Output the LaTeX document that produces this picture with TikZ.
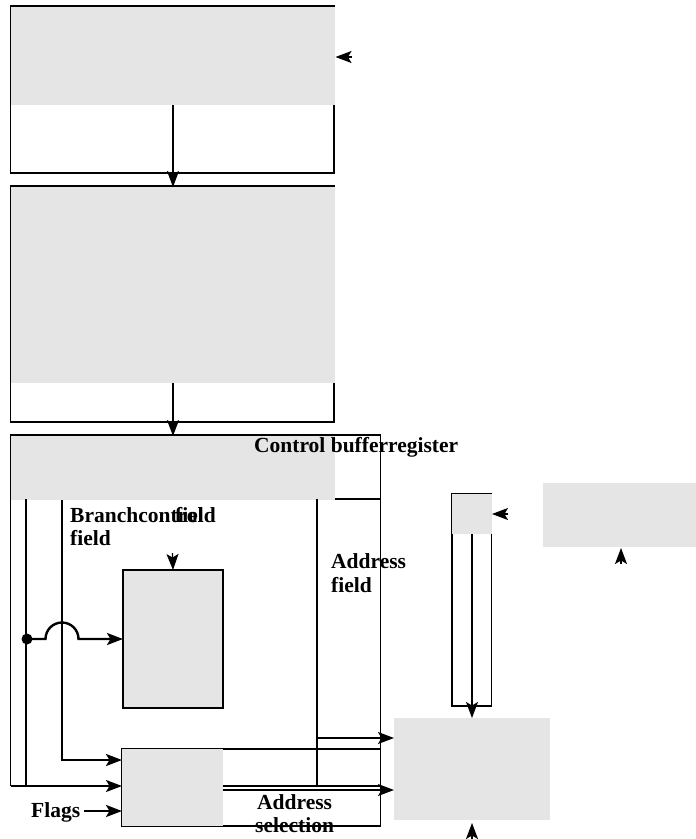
\documentclass[tikz,border=0pt]{standalone}
\usepackage{fontspec}
\setmainfont{Liberation Serif}
\usetikzlibrary{arrows.meta}
\definecolor{boxgray}{HTML}{E5E5E5}
\begin{document}
\begin{tikzpicture}[x=1pt,y=-1pt,
  tip/.style={-{Stealth[length=16pt,width=12pt,inset=3.5pt]}},
  thinline/.style={line width=1.2pt},
  thickline/.style={line width=2.4pt},
  fillbox/.style={fill=boxgray, draw=none, inner sep=0pt, outer sep=0pt, anchor=north west},
  lbl/.style={font=\bfseries\fontsize{21.5}{23}\selectfont, inner sep=0pt, anchor=base west}]
\useasboundingbox (0,0) rectangle (696,839);

% ---- box 1
\draw[thinline] (10.5,6) rectangle (334,173);
\node[fillbox, minimum width=324pt, minimum height=98pt] (b1) at (11,7) {};
% ---- box 2
\draw[thinline] (10.5,186) rectangle (334,422);
\node[fillbox, minimum width=324pt, minimum height=196pt] (b2) at (11,187) {};
% ---- control buffer register
\draw[thinline] (10.5,435) rectangle (380.5,499);
\node[fillbox, minimum width=324pt, minimum height=64pt] (cbr) at (11,436) {};

\draw[thinline, tip] (b1.south) -- (b2.north);
\draw[thinline, tip] (b2.south) -- (cbr.north);

% ---- sequencing box
\node[fillbox, draw, thinline, minimum width=100pt, minimum height=138pt] (seq) at (123,570) {};

% ---- address selection box
\draw[thinline] (122,749) rectangle (380.5,826);
\node[fillbox, minimum width=101pt, minimum height=77pt] (asel) at (122,749) {};

% ---- right column
\draw[thinline] (452,494) rectangle (491.5,706);
\node[fillbox, minimum width=40pt, minimum height=40pt] (inc) at (452,494) {};
\node[fillbox, minimum width=153pt, minimum height=64pt] (r1) at (543,483) {};
\node[fillbox, minimum width=156pt, minimum height=102pt] (cm) at (394,718) {};
\draw[thinline, tip] (inc.south) -- (cm.north);

% ---- address field column
\draw[thinline] (380.5,499) -- (380.5,826);
\draw[thinline] (317,499) -- (317,786);
\draw[thinline] (223,786) -- (380.5,786);
\coordinate (af) at (317,738);
\draw[thinline, tip] (af) -- (cm.west |- af);
\coordinate (aout) at (223,790);
\draw[thinline, tip] (aout) -- (cm.west |- aout);

% ---- left lines
\draw[thinline] (10.5,499) -- (10.5,786);
\draw[thinline] (26,499) -- (26,786);
\coordinate (lj) at (10.5,786);
\draw[line width=1.6pt, tip] (lj) -- (asel.west |- lj);

% ---- branch control line
\coordinate (bc) at (62,500);
\coordinate (bcc) at (62,760);
\draw[thickline, tip] (bc) -- (bcc) -- (asel.west |- bcc);

% ---- dot with jump
\coordinate (dot) at (27,639);
\fill (dot) circle (5.5pt);
\draw[thickline, tip] (dot) -- (45.5,639) arc[start angle=180, end angle=360, radius=16.5] -- (seq.west |- dot);

% ---- flags
\node[lbl] (flags) at (31,817) {Flags};
\coordinate (fl) at (84,811);
\draw[thickline, tip] (fl) -- (asel.west |- fl);

% ---- lone arrowheads
\coordinate (la1) at (352,57);
\coordinate (la1t) at (335.5,57);
\draw[thinline, tip] (la1) -- (la1t);
\coordinate (la2) at (172.5,553);
\draw[thinline, tip] (la2) -- (seq.north);
\coordinate (la3) at (508,514);
\coordinate (la3t) at (492,514);
\draw[thinline, tip] (la3) -- (la3t);
\coordinate (la4) at (621,564);
\coordinate (la4t) at (621,548);
\draw[thinline, tip] (la4) -- (la4t);
\coordinate (la5) at (472,839);
\coordinate (la5t) at (472,823);
\draw[thinline, tip] (la5) -- (la5t);

% ---- labels
\node[lbl] (cbrl) at (254,452) {Control bufferregister};
\node[lbl] (br1) at (70,522) {Branchcontrol};
\node[lbl] (br2) at (175,522) {field};
\node[lbl] (br3) at (70,545.5) {field};
\node[lbl] (ad1) at (331,568) {Address};
\node[lbl] (ad2) at (331,592) {field};
\node[lbl] (as1) at (257,809) {Address};
\node[lbl] (as2) at (255,832) {selection};
\end{tikzpicture}
\end{document}
